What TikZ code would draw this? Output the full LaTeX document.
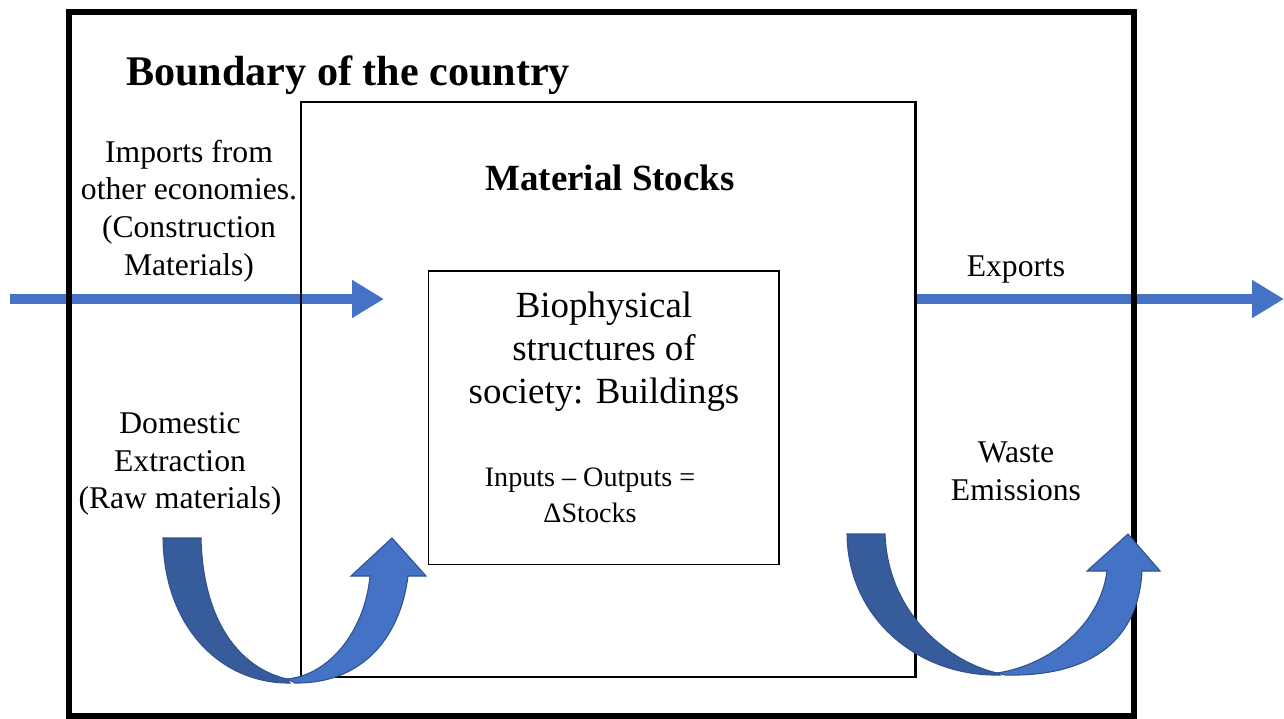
\documentclass[tikz,border=0pt]{standalone}
\usepackage{fontspec}
\setmainfont{Liberation Serif}
\usetikzlibrary{arrows.meta}
\definecolor{flowblue}{HTML}{4472C4}
\definecolor{flowdark}{HTML}{365C9B}
\definecolor{flowedge}{HTML}{2F528F}

\begin{document}
\begin{tikzpicture}[x=0.02cm, y=-0.02cm,
  txt/.style={align=center, font=\fontsize{18}{21.5}\selectfont},
  flow/.style={draw=flowblue, line width=5.6pt, -{Triangle[length=0.64cm, width=0.72cm]}},
  armback/.style={fill=flowdark, draw=flowedge, line width=0.6pt},
  armfront/.style={fill=flowblue, draw=flowedge, line width=0.6pt}]
\useasboundingbox (0,0) rectangle (1284,719);
% Straight flows
\coordinate (impstart) at (10,299);
\coordinate (impend) at (384,299);
\coordinate (expstart) at (916,299);
\coordinate (expend) at (1284,299);
\draw[flow] (impstart) -- (impend);
\draw[flow] (expstart) -- (expend);
% Boundary of the country
\draw[line width=3.4pt] (69,12) rectangle (1134,716);
\node[font=\fontsize{24}{28}\selectfont\bfseries] (country) at (348,75) {Boundary of the country};
% Material stocks
\draw[line width=1.7pt] (301,102) rectangle (915,677);
\node[font=\fontsize{21}{25}\selectfont\bfseries] (stocks) at (610,178) {Material Stocks};
% Biophysical structures
\draw[line width=1.1pt] (428.5,271) rectangle (779,564.5);
\node[align=center, font=\fontsize{21}{24.4}\selectfont] (struct) at (604,352)
  {Biophysical\\structures of\\society: Buildings};
\node[align=center, font=\fontsize{16}{20.4}\selectfont] (balance) at (590,495)
  {Inputs -- Outputs =\\ΔStocks};
% Flow labels
\node[txt] (imports) at (189,211) {Imports from\\other economies.\\(Construction\\Materials)};
\node[txt] (domestic) at (180,464) {Domestic\\Extraction\\(Raw materials)};
\node[txt] (exports) at (1016,270) {Exports};
\node[txt] (waste) at (1016,471) {Waste\\Emissions};
% Domestic extraction arrow
\filldraw[armback] (163,538) .. controls (164,628) and (222,684) .. (290,683) -- (287,679)
  .. controls (240,668) and (203,622) .. (201,538) -- cycle;
\filldraw[armfront] (287,679) .. controls (330,675) and (365,630) .. (370,576) -- (351,576)
  -- (392,538) -- (426,576) -- (408,576) .. controls (400,640) and (360,684) .. (295,683) -- cycle;
% Waste arrow
\filldraw[armback] (847,534) .. controls (848,620) and (920,677) .. (1000,675) -- (997,673)
  .. controls (950,662) and (888,615) .. (885,534) -- cycle;
\filldraw[armfront] (997,673) .. controls (1050,665) and (1100,625) .. (1107,571) -- (1087,571)
  -- (1128,534) -- (1160,571) -- (1142,571) .. controls (1138,645) and (1085,677) .. (1005,675) -- cycle;
\end{tikzpicture}
\end{document}
